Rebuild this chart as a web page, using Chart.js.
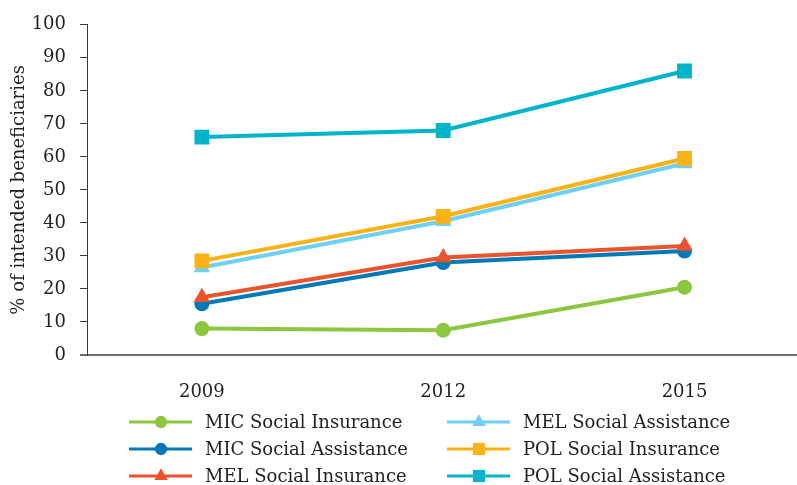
<!DOCTYPE html>
<html>
<head>
<meta charset="utf-8">
<script src="https://cdn.jsdelivr.net/npm/chart.js@4.4.1/dist/chart.umd.min.js"></script>
<style>
    html, body { margin: 0; padding: 0; background: #fff; overflow: hidden; }
    #coverage { display: block; }
</style>
</head>
<body>
<canvas id="coverage" width="797" height="485"></canvas>
<script>
"use strict";

// survey years on the x axis
var years = ["2009", "2012", "2015"];

// % of intended beneficiaries reached, one array per programme
var micSocialInsurance = [8, 7.5, 20.5];
var micSocialAssistance = [15.5, 28, 31.5];
var melSocialInsurance = [17.5, 29.5, 33];
var melSocialAssistance = [26.5, 40.5, 58];
var polSocialInsurance = [28.5, 42, 59.5];
var polSocialAssistance = [66, 68, 86];

var yTicks = [0, 10, 20, 30, 40, 50, 60, 70, 80, 90, 100];

var series = [
    { label: "MIC Social Insurance", data: micSocialInsurance, color: "#8dc63f", style: "circle", radius: 7.5 },
    { label: "MIC Social Assistance", data: micSocialAssistance, color: "#0079b8", style: "circle", radius: 7.5 },
    { label: "MEL Social Insurance", data: melSocialInsurance, color: "#ea532c", style: "triangle", radius: 9.5 },
    { label: "MEL Social Assistance", data: melSocialAssistance, color: "#6fd0f6", style: "triangle", radius: 9.5 },
    { label: "POL Social Insurance", data: polSocialInsurance, color: "#fbb216", style: "rect", radius: 10.5 },
    { label: "POL Social Assistance", data: polSocialAssistance, color: "#00b5c9", style: "rect", radius: 10.5 }
];

var FONT = "'DejaVu Serif', 'Liberation Serif', serif";
var TEXT = "#231f20";

function markerPath(ctx, style, r, x, y) {
    ctx.beginPath();
    if (style === "circle") {
        ctx.arc(x, y, r, 0, Math.PI * 2);
    } else if (style === "triangle") {
        ctx.moveTo(x, y - r);
        ctx.lineTo(x + r * Math.sin(Math.PI * 2 / 3), y + r / 2);
        ctx.lineTo(x - r * Math.sin(Math.PI * 2 / 3), y + r / 2);
        ctx.closePath();
    } else {
        var s = r * Math.SQRT1_2;
        ctx.rect(x - s, y - s, 2 * s, 2 * s);
    }
}

// two-column legend under the plot, filled top to bottom
var columnLegend = {
    id: "columnLegend",
    afterDraw: function(chart) {
        var ctx = chart.ctx;
        ctx.save();
        ctx.font = "18px " + FONT;
        ctx.textBaseline = "middle";
        ctx.textAlign = "left";
        series.forEach(function(s, i) {
            var col = Math.floor(i / 3), row = i % 3;
            var x0 = col ? 447 : 129;
            var y = 422 + row * 27;
            ctx.strokeStyle = s.color;
            ctx.lineWidth = 3;
            ctx.beginPath();
            ctx.moveTo(x0, y);
            ctx.lineTo(x0 + 63, y);
            ctx.stroke();
            ctx.fillStyle = s.color;
            markerPath(ctx, s.style, s.radius * 0.82, x0 + 32, y);
            ctx.fill();
            ctx.fillStyle = TEXT;
            ctx.fillText(s.label, x0 + 76, y + 1);
        });
        ctx.restore();
    }
};

var datasets = series.map(function(s, i) {
    return {
        label: s.label,
        data: s.data.map(function(v, k) { return { x: k, y: v }; }),
        borderColor: s.color,
        backgroundColor: s.color,
        borderWidth: 4,
        pointStyle: s.style,
        pointRadius: s.radius,
        pointHoverRadius: s.radius,
        pointBorderWidth: 0,
        pointBackgroundColor: s.color,
        tension: 0,
        fill: false,
        order: series.length - i
    };
});

new Chart(document.getElementById("coverage").getContext("2d"), {
    type: "line",
    data: { datasets: datasets },
    plugins: [columnLegend],
    options: {
        responsive: false,
        devicePixelRatio: 1,
        animation: false,
        layout: { autoPadding: false, padding: { top: 23, right: 0, left: 0, bottom: 0 } },
        plugins: {
            legend: { display: false },
            tooltip: { enabled: false }
        },
        scales: {
            x: {
                type: "linear",
                min: -0.476,
                max: 2.466,
                afterBuildTicks: function(scale) {
                    scale.ticks = years.map(function(y, k) { return { value: k }; });
                },
                afterFit: function(scale) {
                    scale.height = 130;
                    scale.paddingLeft = 0;
                    scale.paddingRight = 0;
                },
                grid: { display: false },
                border: { display: true, color: "#6d6d6d", width: 2 },
                ticks: {
                    color: TEXT,
                    padding: 19,
                    maxRotation: 0,
                    font: { family: FONT, size: 18 },
                    callback: function(v) { return years[v]; }
                }
            },
            y: {
                min: 0,
                max: 100,
                afterBuildTicks: function(scale) {
                    scale.ticks = yTicks.map(function(v) { return { value: v }; });
                },
                afterFit: function(scale) { scale.width = 87; },
                grid: {
                    drawOnChartArea: false,
                    drawTicks: true,
                    tickLength: 7,
                    color: function(c) { return c.tick && c.tick.value === 0 ? "#6d6d6d" : "#3a3a3a"; },
                    lineWidth: function(c) { return c.tick && c.tick.value === 0 ? 2 : 1; }
                },
                border: { display: true, color: "#3a3a3a", width: 1 },
                ticks: {
                    color: TEXT,
                    padding: 14,
                    font: { family: FONT, size: 18 }
                },
                title: {
                    display: true,
                    text: "% of intended beneficiaries",
                    color: TEXT,
                    padding: { top: 9, bottom: 0 },
                    font: { family: FONT, size: 18 }
                }
            }
        }
    }
});
</script>
</body>
</html>
